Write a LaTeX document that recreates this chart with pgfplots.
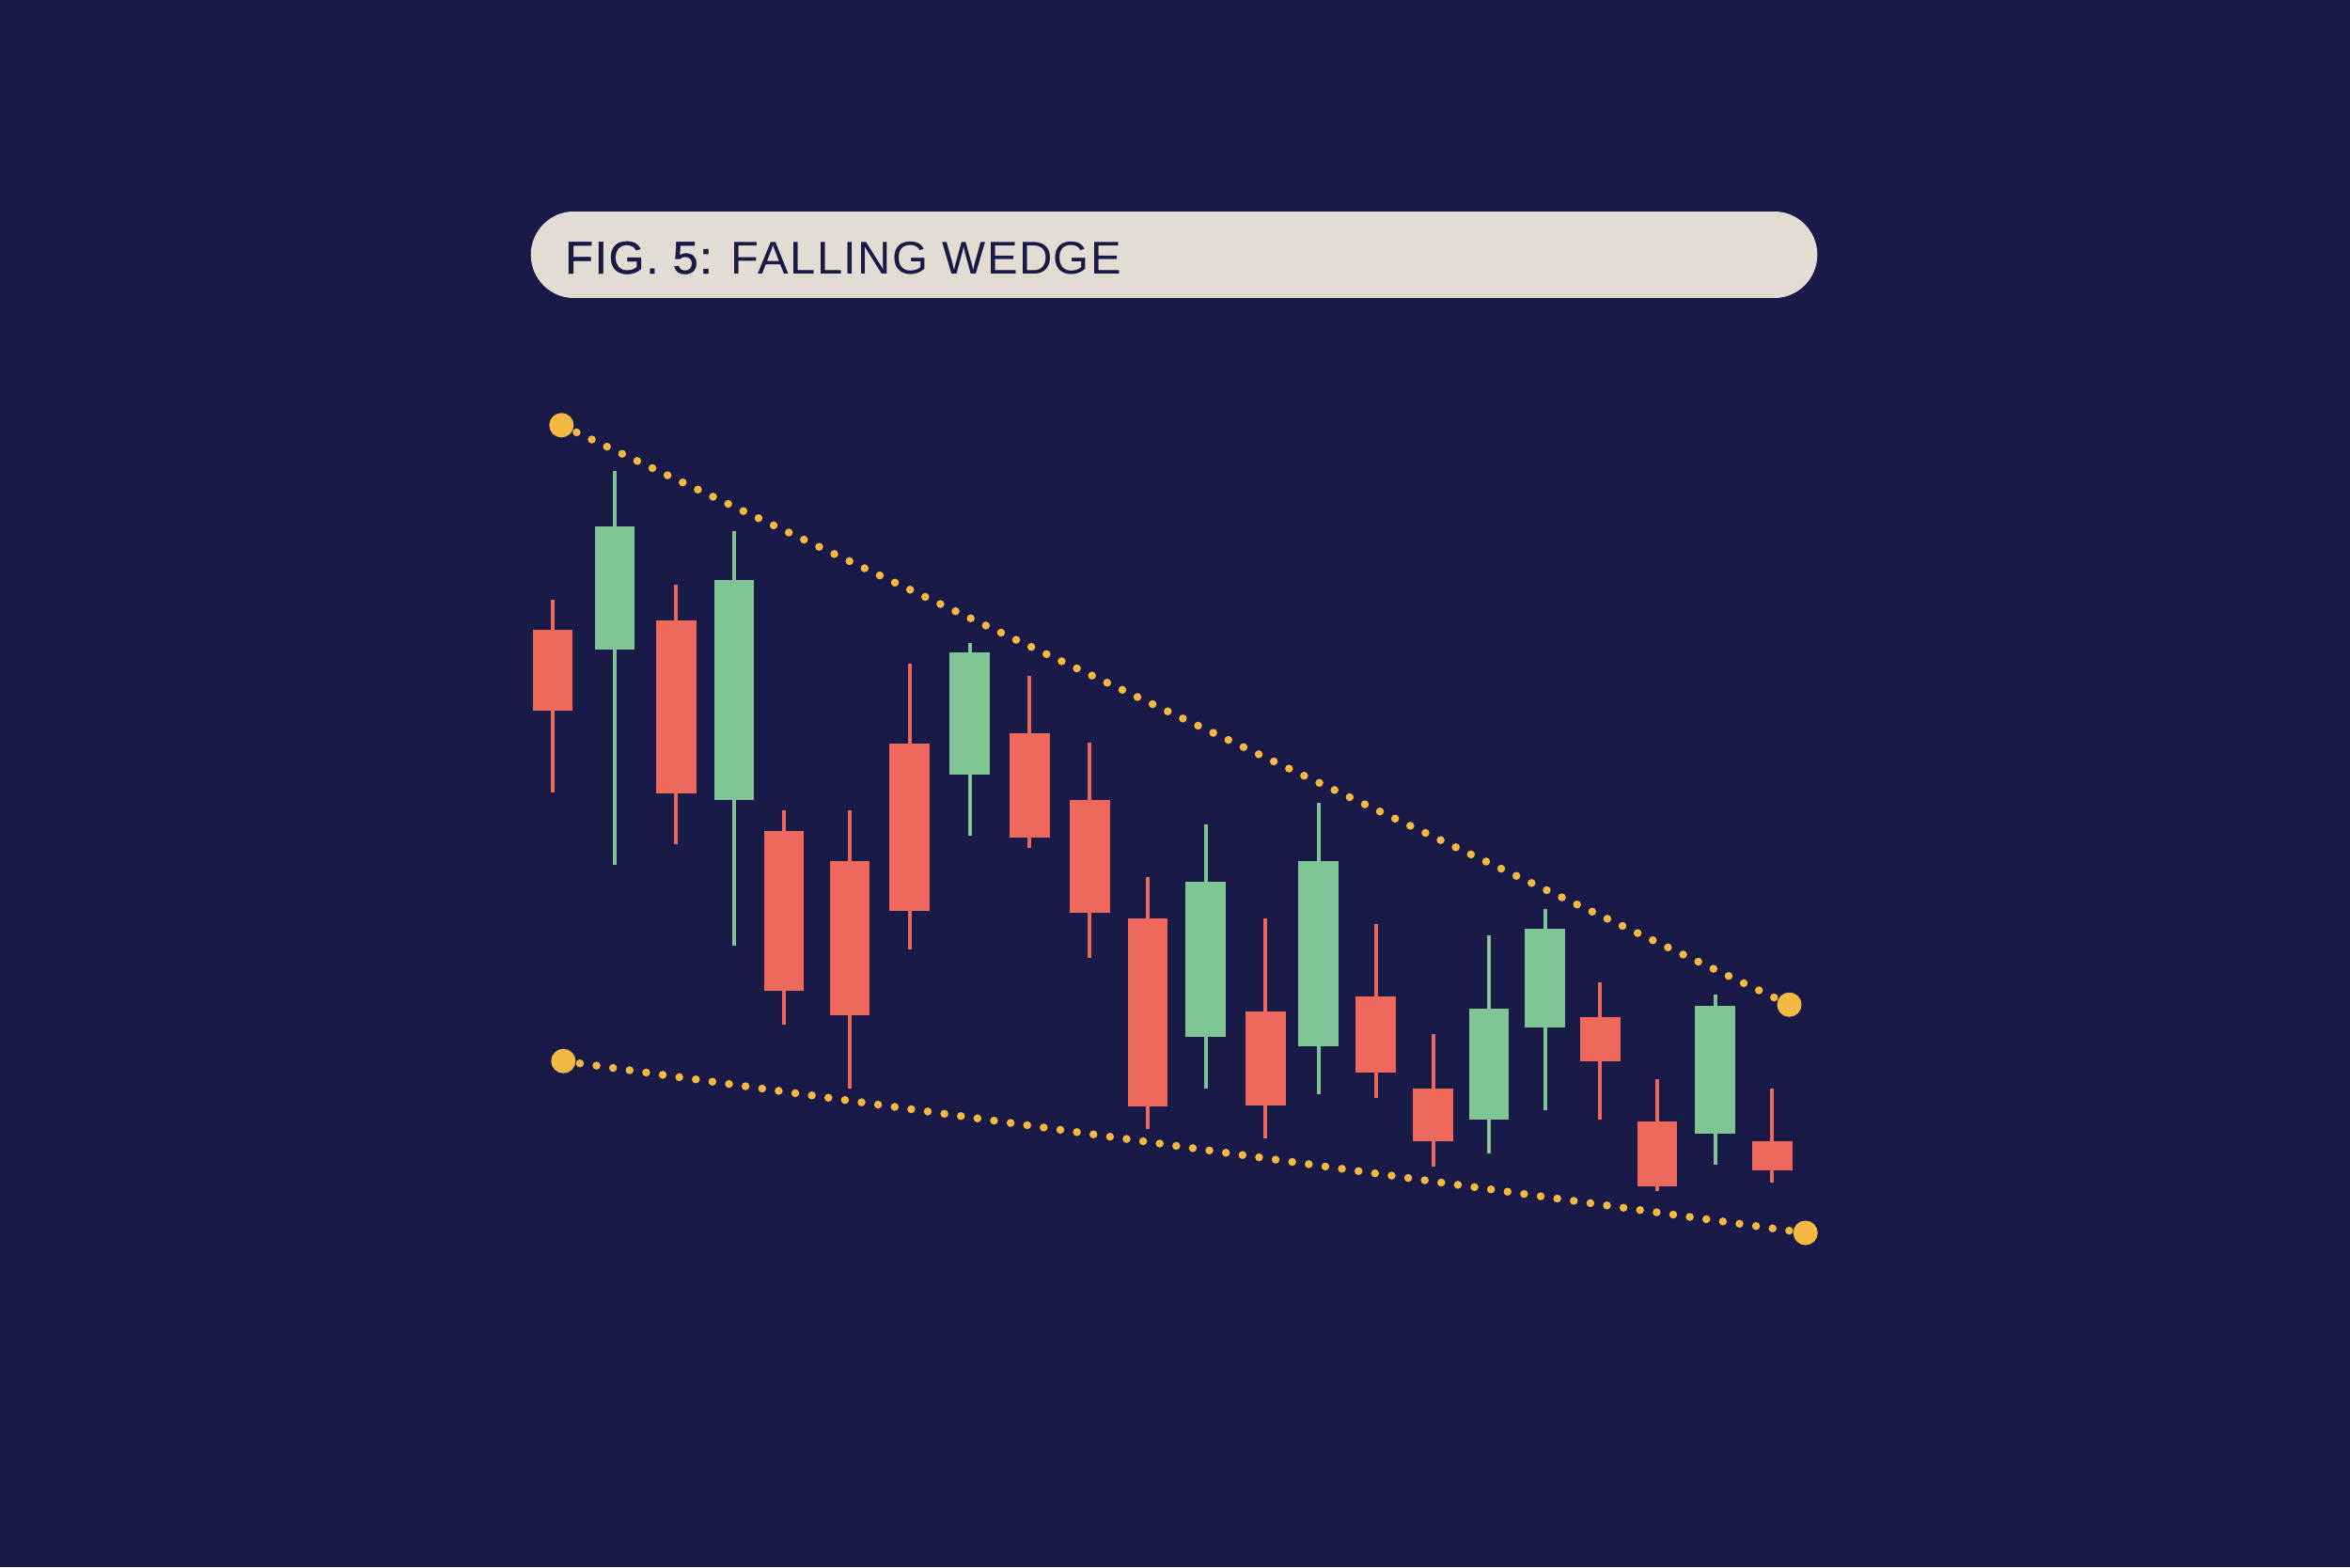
\documentclass[border=0pt]{standalone}
\usepackage{pgfplots}
\pgfplotsset{compat=1.18}
\usepackage{pgfplotstable}
\usepackage{fontspec}
\setmainfont{Liberation Sans}
\newfontfamily\titlelight{Liberation Sans}[LetterSpace=3]
\newfontfamily\titlemed{Liberation Sans}[LetterSpace=3, FakeBold=0.9]

\definecolor{navy}{HTML}{1A1A48}
\definecolor{pill}{HTML}{E3DCD2}
\definecolor{candlered}{HTML}{EE685B}
\definecolor{candlegreen}{HTML}{7FC493}
\definecolor{wedge}{HTML}{F3B942}

% candles in picture pixels (y grows downwards)
% x = centre, wt/wb = wick top/bottom, bt/bb = body top/bottom
\pgfplotstableread{
x      wt      wb      bt      bb
588.0  638.3   843.3   669.7   756.0
719.3  621.7   898.0   660.0   844.0
834.0  861.7  1090.0   884.0  1054.3
904.0  861.7  1158.3   916.3  1079.7
967.7  706.0  1010.0   790.7   969.3
1095.3 719.2   901.6   779.9   890.5
1159.3 790.2  1018.9   851.3   971.1
1221.0 933.0  1201.3   977.4  1176.5
1346.3 977.4  1210.9  1075.8  1175.7
1463.5 983.0  1168.3  1060.3  1140.6
1524.7 1100.3 1241.3  1158.3  1214.0
1702.3 1045.0 1191.0  1081.7  1129.3
1762.8 1148.3 1266.7  1193.3  1261.7
1885.3 1158.3 1258.3  1213.7  1245.0
}\redcandles

\pgfplotstableread{
x      wt      wb      bt      bb
654.0  501.0   920.0   560.0   690.7
781.0  565.3  1005.7   616.7   851.0
1031.7 684.0   889.4   693.7   823.9
1282.5 876.8  1158.3   937.8  1102.8
1402.7 854.2  1163.5   915.6  1113.2
1584.0 994.7  1227.3  1073.0  1191.0
1643.7 967.3  1181.0   987.7  1093.0
1824.5 1057.7 1238.7  1070.3  1206.0
}\greencandles

\pgfplotsset{
  candle/.style 2 args={draw=none, mark=none,
    error bars/.cd, y dir=plus, y explicit, error mark=none,
    error bar style={draw=#1, line width=#2}},
}

\begin{document}
\begin{tikzpicture}
\begin{axis}[
  scale only axis,
  width=250mm, height=166.7mm,
  xmin=0, xmax=2500, ymin=0, ymax=1667,
  y dir=reverse,
  hide axis,
  clip=false,
]
\fill[navy] (rel axis cs:0,0) rectangle (rel axis cs:1,1);

% title pill
\addplot[draw=pill, line width=9.12mm, line cap=round]
  coordinates {(610.3,271) (1887.7,271)};
\node[anchor=base west, inner sep=0pt, text=navy,
      font=\fontsize{13.9pt}{16pt}\selectfont]
  at (axis cs:600.5,291) {{\titlemed FIG. 5:}{\titlelight{} FALLING WEDGE}};

% wedge lines
\addplot[draw=wedge, line width=0.85mm, line cap=round,
         dash pattern=on 0pt off 1.783mm]
  coordinates {(597.3,452.3) (1903.5,1068.7)};
\addplot[draw=wedge, line width=0.85mm, line cap=round,
         dash pattern=on 0pt off 1.779mm]
  coordinates {(599.3,1128.7) (1920.7,1311.5)};
\addplot[only marks, mark=*, mark size=1.23mm, draw=wedge, fill=wedge]
  coordinates {(597.3,452.3) (1903.5,1068.7) (599.3,1128.7) (1920.7,1311.5)};

% wicks
\addplot[candle={candlered}{0.4mm}]
  table[x=x, y=wt, y error plus expr=\thisrow{wb}-\thisrow{wt}] {\redcandles};
\addplot[candle={candlegreen}{0.4mm}]
  table[x=x, y=wt, y error plus expr=\thisrow{wb}-\thisrow{wt}] {\greencandles};

% bodies
\addplot[candle={candlered}{4.26mm}]
  table[x=x, y=bt, y error plus expr=\thisrow{bb}-\thisrow{bt}] {\redcandles};
\addplot[candle={candlegreen}{4.26mm}]
  table[x=x, y=bt, y error plus expr=\thisrow{bb}-\thisrow{bt}] {\greencandles};
\end{axis}
\end{tikzpicture}
\end{document}
